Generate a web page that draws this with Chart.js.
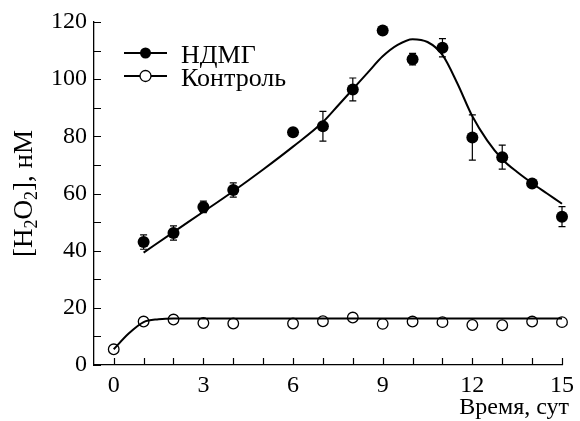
<!DOCTYPE html>
<html>
<head>
<meta charset="utf-8">
<script src="https://cdn.jsdelivr.net/npm/chart.js@4"></script>
<style>
  html, body { margin: 0; padding: 0; background: #fff; }
  #wrap { width: 580px; height: 421px; }
</style>
</head>
<body>
<div id="wrap"><canvas id="h2o2Chart" width="580" height="421"></canvas></div>
<script>
// measured points, NDMG series
const ndmgDays = [1, 2, 3, 4, 6, 7, 8, 9, 10, 11, 12, 13, 14, 15];
const ndmgValues = [43.0, 46.2, 55.3, 61.2, 81.4, 83.5, 96.4, 117.0, 107.0, 111.0, 79.6, 72.7, 63.5, 51.9];
const ndmgErrors = [2.5, 2.5, 2.0, 2.5, 0, 5.2, 4.0, 0, 2.0, 3.2, 7.9, 4.2, 1.0, 3.5];

// measured points, control series
const controlDays = [0, 1, 2, 3, 4, 6, 7, 8, 9, 10, 11, 12, 13, 14, 15];
const controlValues = [5.5, 15.2, 15.9, 14.7, 14.5, 14.5, 15.3, 16.6, 14.4, 15.2, 15.0, 14.0, 13.9, 15.2, 15.0];

// fitted curves
const ndmgFitDays = [1, 2, 3, 4, 5, 6, 7, 7.5, 8, 8.5, 9, 9.5, 10, 10.5, 11, 11.5, 12, 12.5, 13, 13.5, 14, 14.5, 15];
const ndmgFitValues = [39.3, 46.5, 53.6, 60.8, 68.4, 76.4, 85.0, 90.7, 96.5, 102.3, 108.0, 112.0, 114.0, 113.0, 108.5, 98.5, 87.0, 78.5, 72.0, 67.5, 63.6, 60.0, 56.4];
const controlFitDays = [0, 0.5, 1, 1.5, 2, 4, 8, 15];
const controlFitValues = [5.5, 11.0, 15.0, 16.0, 16.3, 16.3, 16.3, 16.3];

// axis labels
const xTickLabels = [0, 3, 6, 9, 12, 15];
const yTickLabels = [0, 20, 40, 60, 80, 100, 120];
const legendLabels = ['НДМГ', 'Контроль'];
const xTitle = 'Время, сут';

const SERIF = '"Liberation Serif", "Times New Roman", Times, serif';

function toXY(xs, ys) {
  return xs.map((x, i) => ({ x: x, y: ys[i] }));
}

// error bars, inward ticks, legend and axis titles
const overlayPlugin = {
  id: 'overlay',
  beforeDatasetsDraw(chart) {
    const ctx = chart.ctx;
    const xs = chart.scales.x, ys = chart.scales.y;
    ctx.save();
    ctx.strokeStyle = '#000';
    ctx.lineWidth = 1.2;
    ndmgDays.forEach((d, i) => {
      const err = ndmgErrors[i];
      if (!err) return;
      const px = xs.getPixelForValue(d);
      const top = ys.getPixelForValue(ndmgValues[i] + err);
      const bot = ys.getPixelForValue(ndmgValues[i] - err);
      ctx.beginPath();
      ctx.moveTo(px, top); ctx.lineTo(px, bot);
      ctx.moveTo(px - 3.5, top); ctx.lineTo(px + 3.5, top);
      ctx.moveTo(px - 3.5, bot); ctx.lineTo(px + 3.5, bot);
      ctx.stroke();
    });
    ctx.restore();
  },
  afterDraw(chart) {
    const ctx = chart.ctx;
    const xs = chart.scales.x, ys = chart.scales.y;
    const area = chart.chartArea;
    ctx.save();
    ctx.strokeStyle = '#000';
    ctx.fillStyle = '#000';
    ctx.lineWidth = 1.2;

    // inward ticks
    ctx.beginPath();
    xs.ticks.forEach(t => {
      const px = Math.round(xs.getPixelForValue(t.value)) + 0.5;
      ctx.moveTo(px, area.bottom);
      ctx.lineTo(px, area.bottom - 7);
    });
    ys.ticks.forEach(t => {
      const py = Math.round(ys.getPixelForValue(t.value)) + 0.5;
      ctx.moveTo(area.left, py);
      ctx.lineTo(area.left + 7, py);
    });
    ctx.stroke();

    // legend
    const legendRows = [53, 76];
    legendRows.forEach((ly, i) => {
      ctx.lineWidth = 2;
      ctx.beginPath();
      ctx.moveTo(124, ly); ctx.lineTo(167, ly);
      ctx.stroke();
      ctx.beginPath();
      ctx.arc(145.5, ly, 5.5, 0, Math.PI * 2);
      if (i === 0) {
        ctx.fill();
      } else {
        ctx.fillStyle = '#fff';
        ctx.fill();
        ctx.lineWidth = 1.3;
        ctx.stroke();
        ctx.fillStyle = '#000';
      }
      ctx.font = '26px ' + SERIF;
      ctx.textBaseline = 'alphabetic';
      ctx.textAlign = 'left';
      ctx.fillText(legendLabels[i], 181, ly + 9.5);
    });

    // x title
    ctx.font = '24px ' + SERIF;
    ctx.textAlign = 'right';
    ctx.textBaseline = 'alphabetic';
    ctx.fillText(xTitle, 569, 414);

    // y title with subscripts
    const parts = [
      { t: '[H', sub: false }, { t: '2', sub: true },
      { t: 'O', sub: false }, { t: '2', sub: true },
      { t: '], нМ', sub: false }
    ];
    const big = '27px ' + SERIF, small = '18px ' + SERIF;
    let total = 0;
    parts.forEach(p => {
      ctx.font = p.sub ? small : big;
      p.w = ctx.measureText(p.t).width;
      total += p.w;
    });
    const cy = (area.top + area.bottom) / 2;
    ctx.translate(32, cy);
    ctx.rotate(-Math.PI / 2);
    ctx.textAlign = 'left';
    let cx = -total / 2;
    parts.forEach(p => {
      ctx.font = p.sub ? small : big;
      ctx.fillText(p.t, cx, p.sub ? 5 : 0);
      cx += p.w;
    });
    ctx.restore();
  }
};

function drawChart() {
  const ctx = document.getElementById('h2o2Chart').getContext('2d');
  new Chart(ctx, {
    type: 'scatter',
    data: {
      datasets: [
        {
          label: 'fit-ndmg',
          data: toXY(ndmgFitDays, ndmgFitValues),
          showLine: true,
          borderColor: '#000',
          borderWidth: 2,
          pointRadius: 0,
          cubicInterpolationMode: 'monotone'
        },
        {
          label: 'fit-control',
          data: toXY(controlFitDays, controlFitValues),
          showLine: true,
          borderColor: '#000',
          borderWidth: 2,
          pointRadius: 0,
          cubicInterpolationMode: 'monotone'
        },
        {
          label: legendLabels[0],
          data: toXY(ndmgDays, ndmgValues),
          showLine: false,
          pointRadius: 6,
          pointBackgroundColor: '#000',
          pointBorderColor: '#000',
          pointBorderWidth: 0
        },
        {
          label: legendLabels[1],
          data: toXY(controlDays, controlValues),
          showLine: false,
          pointRadius: 5.3,
          pointBackgroundColor: '#fff',
          pointBorderColor: '#000',
          pointBorderWidth: 1.3
        }
      ]
    },
    options: {
      responsive: false,
      animation: false,
      events: [],
      layout: { padding: { top: 22, right: 12, left: 0, bottom: 0 } },
      plugins: {
        legend: { display: false },
        tooltip: { enabled: false }
      },
      clip: false,
      scales: {
        x: {
          type: 'linear',
          min: -0.66,
          max: 15,
          afterFit: s => { s.height = 56; },
          grid: { display: false, drawTicks: false },
          border: { display: true, color: '#000', width: 1.3 },
          ticks: {
            stepSize: 1,
            includeBounds: false,
            autoSkip: false,
            maxRotation: 0,
            padding: 6,
            color: '#000',
            font: { family: SERIF, size: 24 },
            callback: v => (xTickLabels.includes(v) ? String(v) : '')
          }
        },
        y: {
          min: 0,
          max: 120,
          afterFit: s => { s.width = 94; },
          grid: { display: false, drawTicks: false },
          border: { display: true, color: '#000', width: 1.3 },
          ticks: {
            stepSize: 10,
            autoSkip: false,
            padding: 7,
            color: '#000',
            font: { family: SERIF, size: 24 },
            callback: v => (yTickLabels.includes(v) ? String(v) : '')
          }
        }
      }
    },
    plugins: [overlayPlugin]
  });
}

// make sure the serif face is ready before the canvas draws text
Promise.all([
  document.fonts.load('24px "Liberation Serif"', 'НДМГ 0123'),
  document.fonts.load('26px "Liberation Serif"', 'Контроль')
]).then(drawChart, drawChart);
</script>
</body>
</html>
